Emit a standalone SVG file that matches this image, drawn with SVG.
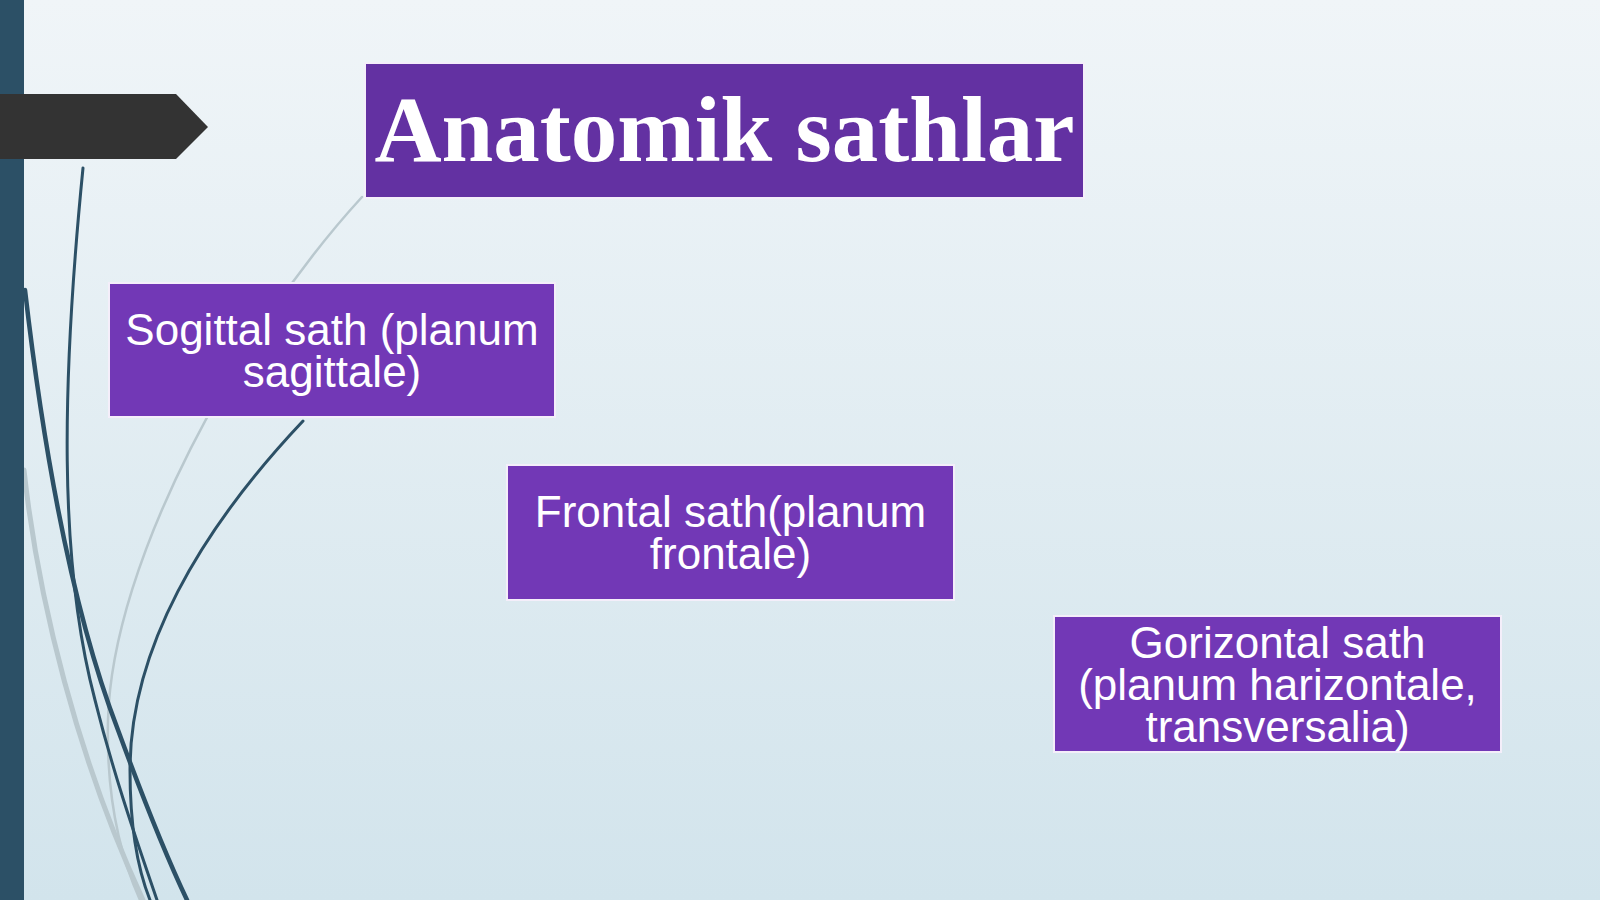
<svg xmlns="http://www.w3.org/2000/svg" width="1600" height="900" viewBox="0 0 1600 900">
  <defs>
    <linearGradient id="bg" x1="0" y1="0" x2="0" y2="1">
      <stop offset="0" stop-color="#f0f5f8"/>
      <stop offset="1" stop-color="#d2e4ec"/>
    </linearGradient>
    <linearGradient id="fadeGray" x1="0" y1="0" x2="0" y2="1">
      <stop offset="0" stop-color="#c5cfd3" stop-opacity="0.9"/>
      <stop offset="0.6" stop-color="#bccacf" stop-opacity="0.8"/>
      <stop offset="1" stop-color="#bccacf" stop-opacity="0.2"/>
    </linearGradient>
  </defs>
  <style>
    .box { fill: #7238b6; stroke: #f4eefa; stroke-width: 2; }
    .title-box { fill: #6331a2; stroke: #f4eefa; stroke-width: 2; }
    .lbl { font-family: "Liberation Sans", Arial, sans-serif; font-size: 44px; fill: #ffffff; text-anchor: middle; }
    .title { font-family: "Liberation Serif", "Times New Roman", serif; font-weight: bold; font-size: 93px; fill: #ffffff; text-anchor: middle; }
    .dark { fill: none; stroke: #2c5066; stroke-linecap: round; }
    .gray { fill: none; stroke: #b9c8ce; stroke-linecap: round; }
  </style>

  <rect x="0" y="0" width="1600" height="900" fill="url(#bg)"/>

  <g id="decor">
    <path class="gray" d="M 362,197 C 240,330 112,560 108,720 C 106,800 122,860 140,900" stroke="url(#fadeGray)" stroke-width="2.5"/>
    <path class="gray" d="M 24,470 C 38,600 78,760 143,900" stroke-width="5"/>
    <path class="dark" d="M 83,168 C 62,380 58,560 95,700 C 115,780 140,850 157,900" stroke-width="3"/>
    <path class="dark" d="M 25,290 C 40,420 68,600 118,730 C 140,790 168,860 187,900" stroke-width="4.5"/>
    <path class="dark" d="M 303,421 C 200,530 130,650 130,770 C 130,830 138,870 150,900" stroke-width="3"/>
  </g>

  <rect id="sidebar" x="0" y="0" width="24" height="900" fill="#2c5066"/>
  <path id="tab" d="M 0,94 L 176,94 L 208,127 L 176,159 L 0,159 Z" fill="#333333"/>

  <g id="title">
    <rect class="title-box" x="365" y="63" width="719" height="135"/>
    <text class="title" x="724.5" y="161">Anatomik sathlar</text>
  </g>

  <g id="node-sagittal">
    <rect class="box" x="109" y="283" width="446" height="134"/>
    <text class="lbl" x="332" y="345">Sogittal sath (planum</text>
    <text class="lbl" x="332" y="387">sagittale)</text>
  </g>

  <g id="node-frontal">
    <rect class="box" x="507" y="465" width="447" height="135"/>
    <text class="lbl" x="730.5" y="527">Frontal sath(planum</text>
    <text class="lbl" x="730.5" y="569">frontale)</text>
  </g>

  <g id="node-horizontal">
    <rect class="box" x="1054" y="616" width="447" height="136"/>
    <text class="lbl" x="1277.5" y="658">Gorizontal sath</text>
    <text class="lbl" x="1277.5" y="700">(planum harizontale,</text>
    <text class="lbl" x="1277.5" y="742">transversalia)</text>
  </g>
</svg>
